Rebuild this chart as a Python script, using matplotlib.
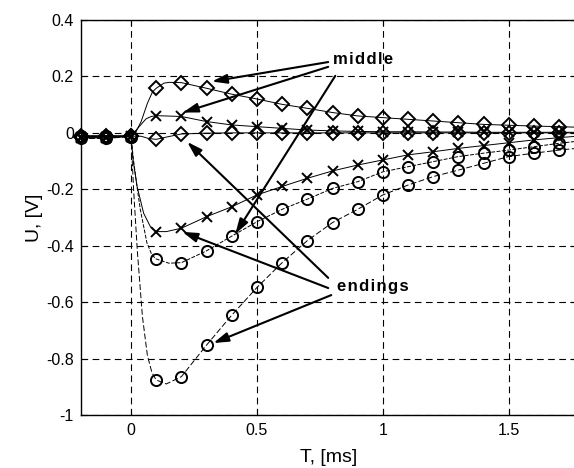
import matplotlib
matplotlib.use('Agg')
import matplotlib.pyplot as plt
import numpy as np

plt.rcParams['font.family'] = ['Liberation Sans', 'DejaVu Sans']

# marker times, ms
t_marks = [-0.2, -0.1, 0.0, 0.1, 0.2, 0.3, 0.4, 0.5, 0.6, 0.7,
           0.8, 0.9, 1.0, 1.1, 1.2, 1.3, 1.4, 1.5, 1.6, 1.7]

# "middle" curves
mid_diam_hi = [-0.010, -0.010, -0.010, 0.158, 0.178, 0.158, 0.137, 0.120, 0.101, 0.087,
               0.072, 0.060, 0.054, 0.048, 0.042, 0.036, 0.030, 0.027, 0.024, 0.022]
mid_x = [-0.013, -0.013, -0.012, 0.061, 0.058, 0.040, 0.028, 0.022, 0.016, 0.010,
         0.007, 0.005, 0.004, 0.004, 0.003, 0.003, 0.002, 0.002, 0.002, 0.002]
mid_diam_lo = [-0.016, -0.016, -0.012, -0.023, -0.004, -0.001, 0.000, 0.000, 0.000, 0.000,
               0.000, 0.000, 0.000, 0.000, 0.000, 0.000, 0.000, 0.000, 0.000, 0.000]

# "endings" curves
end_x = [-0.018, -0.018, -0.013, -0.350, -0.338, -0.297, -0.262, -0.220, -0.190, -0.161,
         -0.135, -0.114, -0.096, -0.078, -0.067, -0.055, -0.045, -0.035, -0.025, -0.017]
end_o1 = [-0.012, -0.012, -0.013, -0.447, -0.460, -0.418, -0.366, -0.315, -0.271, -0.235,
          -0.197, -0.173, -0.138, -0.120, -0.102, -0.084, -0.072, -0.061, -0.049, -0.037]
end_o2 = [-0.020, -0.020, -0.013, -0.876, -0.864, -0.752, -0.646, -0.548, -0.460, -0.382,
          -0.318, -0.271, -0.220, -0.185, -0.155, -0.132, -0.108, -0.084, -0.072, -0.061]

# extra points (t, U)
mid_diam_hi_extra = [(0.02, 0.005), (0.04, 0.04), (0.065, 0.105), (0.085, 0.145),
                     (0.13, 0.176), (0.15, 0.179), (1.77, 0.020)]
mid_x_extra = [(0.03, 0.02), (0.06, 0.05), (0.08, 0.058), (1.77, 0.002)]
mid_diam_lo_extra = [(0.04, -0.012), (0.07, -0.02), (0.14, -0.015), (1.77, 0.0)]
end_x_extra = [(0.008, -0.096), (0.024, -0.19), (0.05, -0.285), (0.077, -0.333),
               (0.14, -0.35), (1.77, -0.012)]
end_o1_extra = [(0.01, -0.10), (0.025, -0.20), (0.037, -0.273), (0.063, -0.39),
                (0.083, -0.433), (0.15, -0.462), (1.77, -0.030)]
end_o2_extra = [(0.01, -0.20), (0.025, -0.42), (0.045, -0.65), (0.065, -0.79),
                (0.083, -0.85), (0.14, -0.89), (1.77, -0.055)]

x_ticks = [0, 0.5, 1, 1.5]
x_ticklabels = ['0', '0.5', '1', '1.5']
y_ticks = [0.4, 0.2, 0, -0.2, -0.4, -0.6, -0.8, -1]
y_ticklabels = ['0.4', '0.2', '0', '-0.2', '-0.4', '-0.6', '-0.8', '-1']


def trace(vals, extra):
    pts = sorted(list(zip(t_marks, vals)) + list(extra))
    return [p[0] for p in pts], [p[1] for p in pts]


def spaced(s):
    # letter-spaced label like the original figure
    return '\u200a'.join(s)


fig = plt.figure(figsize=(5.74, 4.68), dpi=100)
ax = fig.add_axes([80.7 / 574, 53 / 468, 496.3 / 574, 395 / 468])

series = [
    (mid_diam_hi, mid_diam_hi_extra, 'D', '-', 7),
    (mid_x, mid_x_extra, 'x', '-', 7),
    (mid_diam_lo, mid_diam_lo_extra, 'D', '-', 7),
    (end_x, end_x_extra, 'x', '-', 7),
    (end_o1, end_o1_extra, 'o', (0, (4, 1.5)), 8),
    (end_o2, end_o2_extra, 'o', (0, (6, 2.5)), 8),
]
for vals, extra, mk, ls, ms in series:
    tx, ty = trace(vals, extra)
    ax.plot(tx, ty, color='k', lw=0.7, linestyle=ls, clip_on=False)
    ax.plot(t_marks, vals, linestyle='none', marker=mk, ms=ms, mfc='none',
            mec='k', mew=1.4, clip_on=False)

ax.set_xlim(-0.2, 1.771)
ax.set_ylim(-1, 0.4)
ax.set_xticks(x_ticks)
ax.set_xticklabels(x_ticklabels)
ax.set_yticks(y_ticks)
ax.set_yticklabels(y_ticklabels)
ax.tick_params(direction='in', length=4, top=True, right=True, labelsize=11.5)
ax.tick_params(axis='x', pad=6)
ax.tick_params(axis='y', pad=5)
ax.grid(True, color='k', lw=0.8, linestyle=(0, (6, 4)))
ax.set_axisbelow(True)
for s in ax.spines.values():
    s.set_linewidth(1.0)

ax.set_xlabel('T, [ms]', fontsize=14, labelpad=8)
ax.set_ylabel('U, [V]', fontsize=14, labelpad=2)

# annotations
arrow_kw = dict(arrowstyle='-|>,head_length=0.9,head_width=0.28', lw=1.5,
                color='k', shrinkA=0, shrinkB=0)
ax.text(0.80, 0.244, spaced('middle'), fontsize=12, fontweight='bold', va='baseline')
mid_tails = [(0.783, 0.251), (0.783, 0.234), (0.811, 0.202)]
mid_heads = [(0.321, 0.182), (0.206, 0.072), (0.414, -0.358)]
for tail, head in zip(mid_tails, mid_heads):
    ax.annotate('', xy=head, xytext=tail, arrowprops=arrow_kw)

ax.text(0.817, -0.56, spaced('endings'), fontsize=12, fontweight='bold', va='baseline')
end_tails = [(0.783, -0.514), (0.783, -0.55), (0.795, -0.575)]
end_heads = [(0.223, -0.032), (0.204, -0.351), (0.327, -0.745)]
for tail, head in zip(end_tails, end_heads):
    ax.annotate('', xy=head, xytext=tail, arrowprops=arrow_kw)

fig.savefig('out.png', dpi=100)
